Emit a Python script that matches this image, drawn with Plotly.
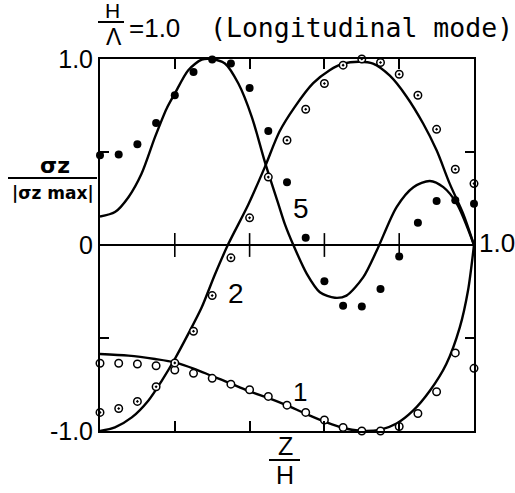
import plotly.graph_objects as go

# ---- theoretical curves: z/H and sigma_z / |sigma_z max| ----
curve1_z = [0.0, 0.076, 0.147, 0.2, 0.254, 0.298, 0.343, 0.396, 0.45, 0.494, 0.552,
            0.606, 0.65, 0.695, 0.748, 0.793, 0.837, 0.882, 0.926, 0.962, 0.984, 1.0]
curve1_v = [-0.586, -0.595, -0.613, -0.631, -0.667, -0.703, -0.739, -0.784, -0.823, -0.857, -0.909,
            -0.954, -0.984, -0.999, -0.994, -0.96, -0.891, -0.784, -0.64, -0.443, -0.245, 0.0]

curve2_z = [0.0, 0.04, 0.085, 0.129, 0.165, 0.2, 0.236, 0.272, 0.307, 0.343, 0.396, 0.441,
            0.48, 0.52, 0.57, 0.614, 0.65, 0.695, 0.73, 0.775, 0.819, 0.864, 0.9, 0.935, 0.971, 1.0]
curve2_v = [-1.0, -0.98, -0.927, -0.837, -0.73, -0.613, -0.478, -0.335, -0.16, 0.005, 0.215, 0.42,
            0.61, 0.74, 0.87, 0.94, 0.975, 0.985, 0.975, 0.91, 0.8, 0.653, 0.509, 0.33, 0.168, 0.0]

curve5_z = [0.0, 0.04, 0.076, 0.111, 0.147, 0.178, 0.2, 0.236, 0.272, 0.298, 0.334, 0.37, 0.406,
            0.441, 0.477, 0.494, 0.517, 0.553, 0.588, 0.628, 0.659, 0.704, 0.74, 0.793, 0.838,
            0.882, 0.918, 0.954, 1.0]
curve5_v = [0.153, 0.177, 0.257, 0.383, 0.58, 0.733, 0.814, 0.94, 0.997, 1.0, 0.976, 0.868, 0.688,
            0.446, 0.22, 0.114, 0.0, -0.155, -0.254, -0.284, -0.272, -0.173, -0.03, 0.204, 0.311,
            0.344, 0.311, 0.222, 0.0]

# ---- measured points ----
meas_z = [0.0, 0.05, 0.1, 0.15, 0.2, 0.25, 0.3, 0.35, 0.4, 0.45, 0.5,
          0.55, 0.6, 0.65, 0.7, 0.75, 0.8, 0.85, 0.9, 0.95, 1.0]
meas1_v = [-0.636, -0.636, -0.64, -0.649, -0.672, -0.69, -0.717, -0.748, -0.778, -0.814, -0.861,
           -0.9, -0.941, -0.981, -1.0, -1.0, -0.976, -0.906, -0.789, -0.58, -0.663]
meas2_v = [-0.9, -0.879, -0.841, -0.762, -0.634, -0.464, -0.272, -0.069, 0.146, 0.365, 0.563,
           0.73, 0.868, 0.967, 1.0, 0.981, 0.918, 0.805, 0.622, 0.407, 0.33]
meas5_v = [0.482, 0.487, 0.541, 0.656, 0.805, 0.93, 0.997, 0.976, 0.844, 0.613, 0.338,
           0.039, -0.195, -0.326, -0.331, -0.236, -0.062, 0.12, 0.236, 0.24, 0.222]

x_ticks = [0.2, 0.4, 0.6, 0.8]
y_tickvals = [-1.0, -0.5, 0.0, 0.5, 1.0]
y_ticktext = ["-1.0", "", "0", "", "1.0"]

W, H = 515, 493
ML, MR, MT, MB = 100, 41, 59, 62
PW, PH = W - ML - MR, H - MT - MB


def px(x):
    return (x - ML) / PW


def py(y):
    return (H - MB - y) / PH


INK = "black"
NUM_FONT = "Liberation Sans, sans-serif"

fig = go.Figure()

for cz, cv in [(curve1_z, curve1_v), (curve2_z, curve2_v), (curve5_z, curve5_v)]:
    fig.add_trace(go.Scatter(x=cz, y=cv, mode="lines",
                             line=dict(color=INK, width=2.4, shape="spline", smoothing=0.8),
                             hoverinfo="skip", showlegend=False))

# tick marks crossing the zero line
fig.add_trace(go.Scatter(x=x_ticks, y=[0] * len(x_ticks), mode="markers",
                         marker=dict(symbol="line-ns-open", size=17, color=INK,
                                     line=dict(color=INK, width=1.6)),
                         hoverinfo="skip", showlegend=False, cliponaxis=False))

fig.add_trace(go.Scatter(x=meas_z, y=meas1_v, mode="markers",
                         marker=dict(symbol="circle", size=7.5, color="white",
                                     line=dict(color=INK, width=1.5)),
                         showlegend=False, cliponaxis=False))
fig.add_trace(go.Scatter(x=meas_z, y=meas2_v, mode="markers",
                         marker=dict(symbol="circle-dot", size=7.5, color="white",
                                     line=dict(color=INK, width=1.5)),
                         showlegend=False, cliponaxis=False))
fig.add_trace(go.Scatter(x=meas_z, y=meas5_v, mode="markers",
                         marker=dict(symbol="circle", size=8, color=INK,
                                     line=dict(color=INK, width=0)),
                         showlegend=False, cliponaxis=False))

annotations = []


def label(text, x, y, size, family=NUM_FONT, xanchor="center"):
    annotations.append(dict(text=text, x=px(x), y=py(y), xref="paper", yref="paper",
                            xanchor=xanchor, yanchor="middle", showarrow=False,
                            font=dict(family=family, size=size, color=INK)))


# heading
label("H", 112, 11, 21)
label("Λ", 114, 37, 23)
label("=1.0", 154, 28, 26)
label("(Longitudinal mode)", 361, 27, 26.5, family="DejaVu Sans Mono")

# y-axis label
label("<b>σz</b>", 55, 165, 22, family="DejaVu Sans")
label("<b>|σz max|</b>", 53, 193, 17, family="DejaVu Sans")

# x-axis label and end value
label("Z", 285, 446, 25)
label("H", 285, 475, 25)
label("1.0", 477, 243, 26, xanchor="left")

# curve numbers
label("5", 301, 208, 28)
label("2", 236, 293, 28)
label("1", 300, 392, 26)

shapes = [
    dict(type="line", xref="paper", yref="paper", x0=px(98), x1=px(124), y0=py(22), y1=py(22),
         line=dict(color=INK, width=2)),
    dict(type="line", xref="paper", yref="paper", x0=px(8), x1=px(97), y0=py(178), y1=py(178),
         line=dict(color=INK, width=2)),
    dict(type="line", xref="paper", yref="paper", x0=px(269), x1=px(300), y0=py(460), y1=py(460),
         line=dict(color=INK, width=2)),
]

fig.update_layout(
    width=W, height=H,
    margin=dict(l=ML, r=MR, t=MT, b=MB, pad=0),
    paper_bgcolor="white", plot_bgcolor="white",
    showlegend=False,
    annotations=annotations,
    shapes=shapes,
    xaxis=dict(range=[0, 1], tickvals=x_ticks, showticklabels=False,
               ticks="inside", ticklen=10, tickwidth=1.6, tickcolor=INK,
               showline=True, linecolor=INK, linewidth=2, mirror="ticks",
               showgrid=False, zeroline=False),
    yaxis=dict(range=[-1, 1], tickvals=y_tickvals, ticktext=y_ticktext,
               ticks="inside", ticklen=9, tickwidth=1.6, tickcolor=INK,
               tickfont=dict(family=NUM_FONT, size=25, color=INK),
               showline=True, linecolor=INK, linewidth=2, mirror="ticks",
               showgrid=False, zeroline=True, zerolinecolor=INK, zerolinewidth=2),
)

fig.write_html("out.html")
